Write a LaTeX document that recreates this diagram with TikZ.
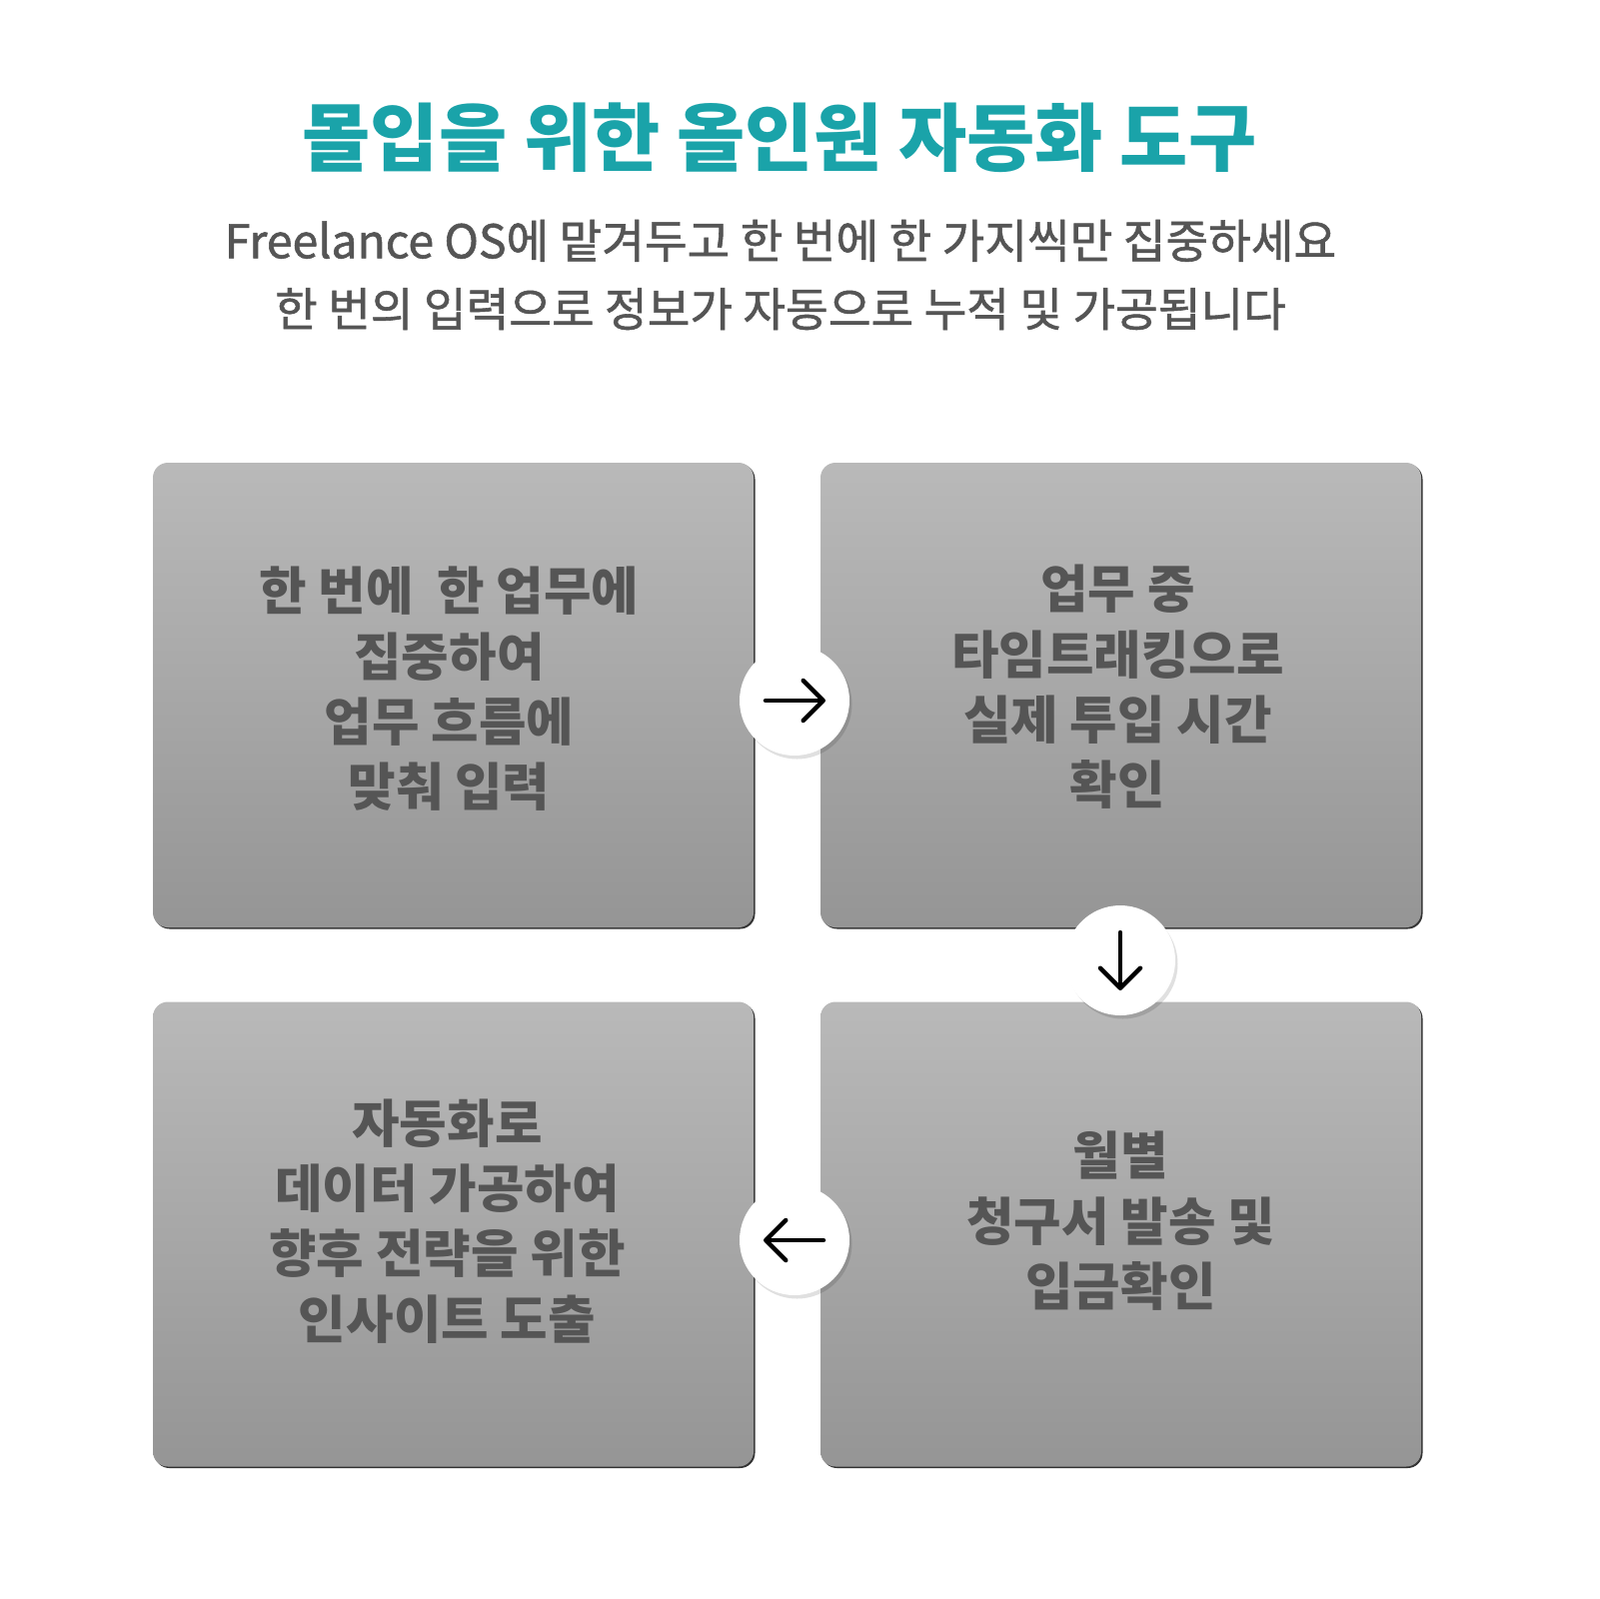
\documentclass[tikz,border=0pt]{standalone}
\usepackage{fontspec}
\setmainfont{Noto Sans CJK KR}
\newfontfamily\subfont{Noto Sans CJK KR}[FakeBold=1.2]
\usetikzlibrary{calc,arrows.meta,shadows}

\definecolor{headteal}{HTML}{1AA3A9}
\definecolor{inkgray}{HTML}{555555}
\definecolor{cardtop}{HTML}{B9B9B9}
\definecolor{cardbot}{HTML}{959595}

\begin{document}
\begin{tikzpicture}[
  x=0.1mm, y=-0.1mm,
  card/.style={
    rectangle, rounded corners=1.5mm, inner sep=0pt,
    minimum width=60.1mm, minimum height=46.5mm,
    top color=cardtop, bottom color=cardbot,
    drop shadow={shadow xshift=0.15mm, shadow yshift=-0.15mm,
      fill=black!80, opacity=1},
  },
  cardtext/.style={
    font=\bfseries\fontsize{14.7}{18.6}\selectfont,
    text=inkgray, align=center, inner sep=0pt,
  },
  hop/.style={
    circle, fill=white, minimum size=11mm, inner sep=0pt,
    drop shadow={shadow xshift=0.25mm, shadow yshift=-0.35mm,
      fill=black, opacity=0.12},
  },
  arr/.style={
    line width=0.45mm, line cap=round, line join=round,
    -{Straight Barb[length=2mm, width=4mm, round]},
  },
]

  \useasboundingbox [fill=white] (0,0) rectangle (1600,1600);

  % heading
  \node [font=\bfseries\fontsize{21.1}{25}\selectfont, text=headteal]
    (T) at (780,138) {몰입을 위한 올인원 자동화 도구};
  \node [font=\subfont\fontsize{13.2}{19.4}\selectfont, text=inkgray, align=center]
    (S) at (781,275) {Freelance OS에 맡겨두고 한 번에 한 가지씩만 집중하세요\\
      한 번의 입력으로 정보가 자동으로 누적 및 가공됩니다};

  % the four steps
  \node [card] (P1) at (453.5,695.5) {};
  \node [card] (P2) at (1121.5,695.5) {};
  \node [card] (P3) at (1121.5,1235) {};
  \node [card] (P4) at (453.5,1235) {};

  \node [cardtext] (L1) at ($(P1)+(-4,-6)$) {한 번에 \ 한 업무에\\집중하여\\업무 흐름에\\맞춰 입력};
  \node [cardtext] (L2) at ($(P2)+(-3,-8)$) {업무 중\\타임트래킹으로\\실제 투입 시간\\확인};
  \node [cardtext] (L3) at ($(P3)+(0,-13)$) {월별\\청구서 발송 및\\입금확인};
  \node [cardtext] (L4) at ($(P4)+(-6,-13)$) {자동화로\\데이터 가공하여\\향후 전략을 위한\\인사이트 도출};

  % hops between steps
  \node [hop] (H1) at (795,701) {};
  \node [hop] (H2) at (1121,961) {};
  \node [hop] (H3) at (795,1241) {};

  \draw [arr] ($(H1)+(-29,0)$) -- ($(H1)+(31,0)$);
  \draw [arr] ($(H2)+(0,-28)$) -- ($(H2)+(0,30)$);
  \draw [arr] ($(H3)+(29,0)$) -- ($(H3)+(-31,0)$);

\end{tikzpicture}
\end{document}
